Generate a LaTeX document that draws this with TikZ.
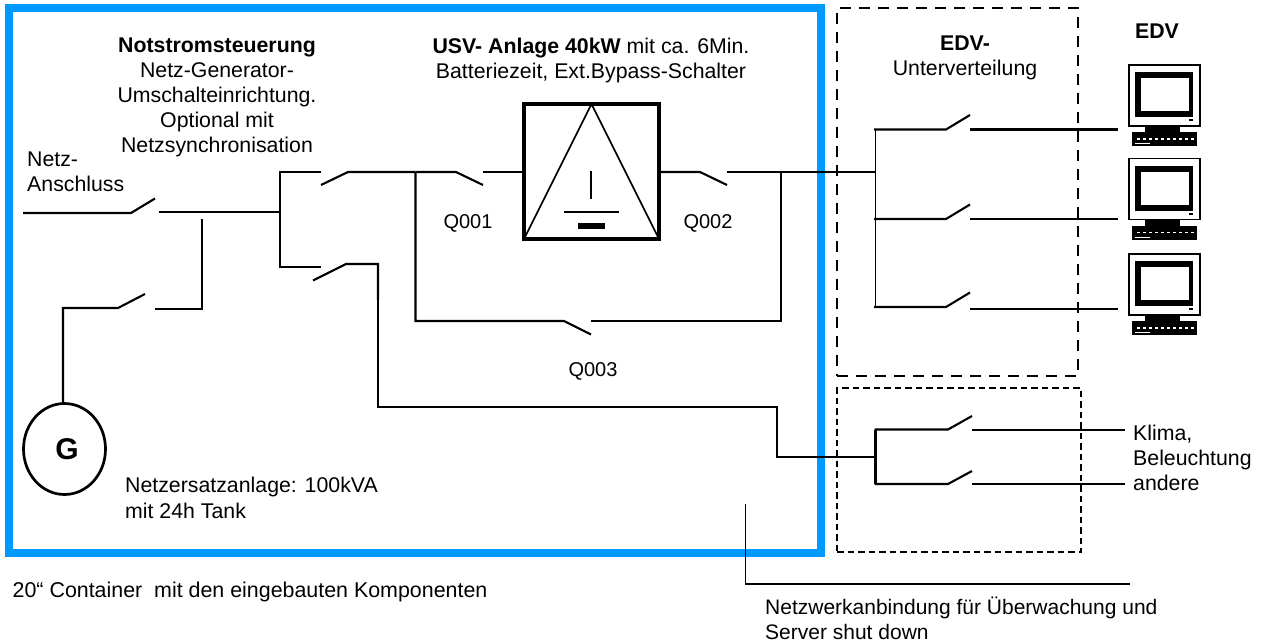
\documentclass[tikz,border=0pt]{standalone}
\usepackage{fontspec}
\usetikzlibrary{shapes.geometric}
\setmainfont{Liberation Sans}
\definecolor{contblue}{RGB}{0,153,255}
\tikzset{
  txt/.style={inner sep=0pt,font=\fontsize{21.3}{25}\selectfont,align=center},
  txl/.style={txt,anchor=west,align=left},
  wire/.style={line width=2.1pt,line join=miter},
  thinwire/.style={line width=1.5pt,line join=miter},
  box/.style={rectangle,inner sep=0pt,outer sep=0pt},
  dboxa/.style={box,draw,line width=2pt,dash pattern=on 11pt off 8pt},
  dboxb/.style={box,draw,line width=1.4pt,dash pattern=on 6.5pt off 4pt},
}
\newcommand{\edvmonitor}[1]{%
  \begin{scope}[yshift=-#1pt]
    \draw[line width=1.5pt] (1129,65) rectangle (1200,126);
    \fill (1135,72) rectangle (1193,117);
    \fill[white] (1141,78) rectangle (1189,111);
    \fill (1189,119) rectangle (1193,121);
    \fill (1145,126) rectangle (1180,132);
    \fill (1132,132) rectangle (1197,146);
    \draw[white,line width=1.6pt,dash pattern=on 3pt off 3pt] (1137,139) -- (1195,139);
    \draw[white,line width=1pt] (1135,143.5) -- (1150,143.5);
  \end{scope}}
\begin{document}
\begin{tikzpicture}[x=1pt,y=-1pt]
\useasboundingbox (0,0) rectangle (1266,643);
% container and sub-distribution frames
\node[box,draw=contblue,line width=8pt,minimum width=812pt,minimum height=544.5pt] (cont) at (415,280.25) {};
\node[dboxa,minimum width=241pt,minimum height=368pt] (edvbox) at (957.5,192) {};
\node[dboxb,minimum width=244pt,minimum height=164pt] (klimabox) at (959,470) {};
% text
\node[txt] (t1) at (217,97.5) {\textbf{Notstromsteuerung}\\Netz-Generator-\\Umschalteinrichtung.\\Optional mit\\Netzsynchronisation};
\node[txt] (t2) at (591,60.5) {\textbf{USV- Anlage 40kW} mit ca. 6Min.\\Batteriezeit, Ext.Bypass-Schalter};
\node[txt] (t3) at (965,58) {\textbf{EDV-}\\Unterverteilung};
\node[txt] (t4) at (1157,31) {\textbf{EDV}};
\node[txl] (t5) at (27,172) {Netz-\\Anschluss};
\node[txt,font=\fontsize{20}{25}\selectfont] (q1) at (468,223) {Q001};
\node[txt,font=\fontsize{20}{25}\selectfont] (q2) at (708,223) {Q002};
\node[txt,font=\fontsize{20}{25}\selectfont] (q3) at (593,371) {Q003};
\node[txl,font=\fontsize{21.3}{26}\selectfont] (t6) at (125,498) {Netzersatzanlage: 100kVA\\mit 24h Tank};
\node[txl,font=\fontsize{21.4}{26}\selectfont] (t7) at (12.5,592) {20“ Container\ \ mit den eingebauten Komponenten};
\node[txl,font=\fontsize{21}{25}\selectfont] (t8) at (765,618.5) {Netzwerkanbindung für Überwachung und\\Server shut down};
\node[txl] (t9) at (1133,458) {Klima,\\Beleuchtung\\andere};
% generator
\node[ellipse,draw,line width=2.7pt,minimum width=82pt,minimum height=91pt,inner sep=0pt,font=\fontsize{30}{30}\selectfont\bfseries] (G) at (64.5,449) {\hspace*{5pt}G};
% USV
\node[box,draw,line width=4pt,minimum width=135pt,minimum height=135pt] (usv) at (591.5,171.5) {};
\draw[line width=1.6pt] (usv.south west) -- (usv.north) -- (usv.south east);
\draw[line width=1.5pt] (591,171) -- (591,199);
\draw[line width=1.5pt] (564,212) -- (619,212);
\fill (578,223) rectangle (605,229);
% monitors
\edvmonitor{0}
\edvmonitor{93.5}
\edvmonitor{189}
% junctions
\coordinate (ja) at (280,212);
\coordinate (jb) at (415.5,172);
\coordinate (jc) at (781,172);
\coordinate (jd) at (875.5,172);
\coordinate (je) at (875.5,457);
% input side
\draw[wire] (23,213) -- (131,213) -- (155,198.5);
\draw[wire] (159,212) -- (ja);
\draw[wire] (202,219) -- (202,309) -- (155,309);
\draw[wire] (145,294) -- (118,308) -- (63,308) -- (63,403);
\draw[wire] (321,172) -- (280,172) -- (280,267) -- (321,267);
\draw[wire] (321,185) -- (348,172) -- (jb);
\draw[wire] (313,280.5) -- (346,264) -- (378,264) -- (378,300);
\draw[thinwire] (378,300) -- (378,407) -- (777,407) -- (777,457) -- (je);
% UPS branch
\draw[wire] (jb) -- (456,172) -- (483,185);
\draw[wire] (483,172) -- (usv.west |- jb);
\draw[wire] (usv.east |- jc) -- (700,172) -- (727,185);
\draw[wire] (727,172) -- (jc);
\draw[wire] (jb) -- (415.5,321) -- (564,321) -- (591,334.5);
\draw[wire] (591,321) -- (781,321) -- (jc);
\draw[thinwire] (jc) -- (jd);
% EDV distribution
\draw[thinwire] (875.5,129.5) -- (875.5,307);
\draw[wire] (874,129.5) -- (946,129.5) -- (970,115);
\draw[wire] (970,129.5) -- (1118,129.5);
\draw[wire] (874,219) -- (946,219) -- (970,204.5);
\draw[wire] (970,219) -- (1118,219);
\draw[wire] (874,307) -- (946,307) -- (970,292.5);
\draw[wire] (970,309) -- (1118,309);
% Klima distribution
\draw[wire] (875.5,429.5) -- (875.5,484);
\draw[wire] (874.5,429.5) -- (948,429.5) -- (972,416);
\draw[wire] (972,430) -- (1125,430);
\draw[wire] (874.5,484) -- (948,484) -- (972,471);
\draw[wire] (972,484) -- (1125,484);
% network link
\draw[thinwire] (745.5,504) -- (745.5,584) -- (1130,584);
\end{tikzpicture}
\end{document}
